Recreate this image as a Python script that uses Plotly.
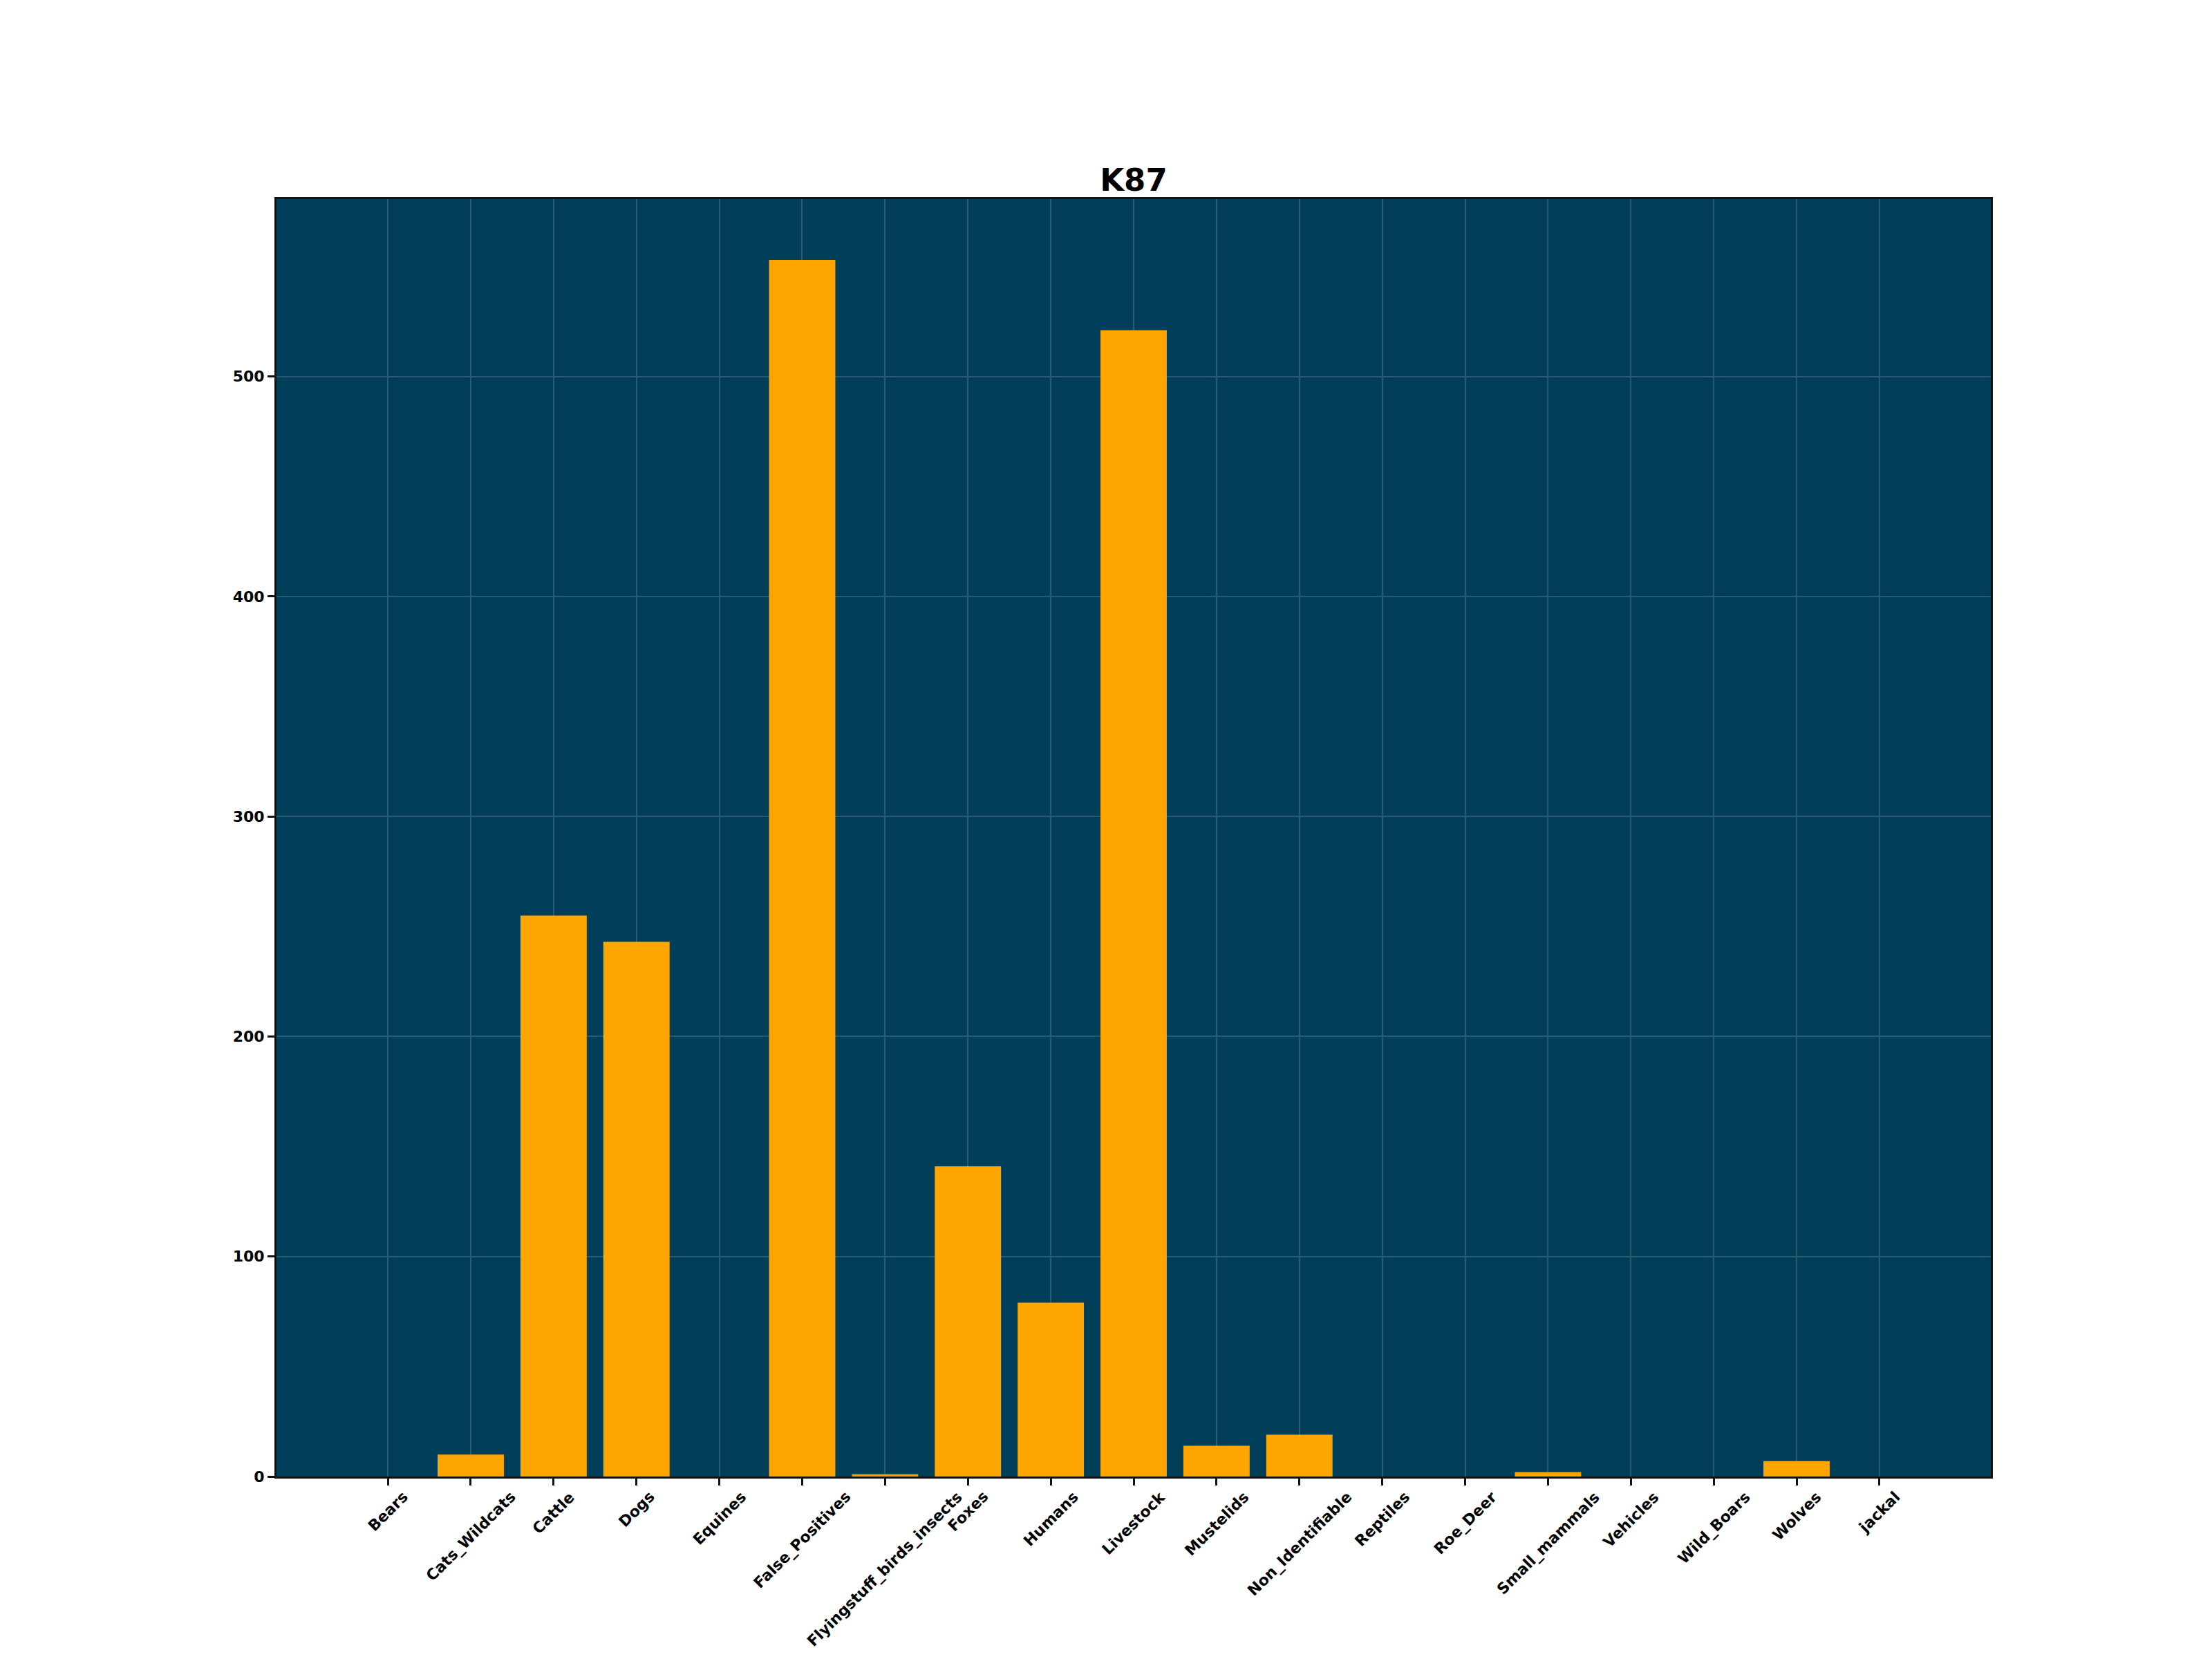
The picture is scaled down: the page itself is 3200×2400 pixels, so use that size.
import plotly.graph_objects as go

categories = ["Bears", "Cats_Wildcats", "Cattle", "Dogs", "Equines", "False_Positives",
              "Flyingstuff_birds_insects", "Foxes", "Humans", "Livestock", "Mustelids",
              "Non_Identifiable", "Reptiles", "Roe_Deer", "Small_mammals", "Vehicles",
              "Wild_Boars", "Wolves", "jackal"]
counts = [0, 10, 255, 243, 0, 553, 1, 141, 79, 521, 14, 19, 0, 0, 2, 0, 0, 7, 0]
y_ticks = [0, 100, 200, 300, 400, 500]
title_text = "K87"

FONT = "DejaVu Sans"
BG = "#013e5a"
GRID = "rgb(42,90,112)"

fig = go.Figure()
fig.add_trace(go.Bar(
    x=categories, y=counts, width=0.8,
    marker=dict(color="#FFA500", line=dict(width=0)),
))

annotations = []
for c in categories:
    annotations.append(dict(
        x=c, y=0, xref="x", yref="y", text="<b>%s</b>" % c, showarrow=False,
        textangle=-45, xanchor="center", yanchor="top", yshift=-14,
        font=dict(family=FONT, size=22, color="black"),
    ))

fig.update_layout(
    width=3200, height=2400,
    margin=dict(l=392, r=328, t=280, b=272, pad=0),
    paper_bgcolor="white", plot_bgcolor=BG,
    showlegend=False,
    bargap=0.2,
    title=dict(text="<b>%s</b>" % title_text, x=0.5, xref="paper", xanchor="center",
               y=1, yref="paper", yanchor="bottom", pad=dict(b=12),
               font=dict(family=FONT, size=45, color="black")),
    annotations=annotations,
)
fig.update_xaxes(
    type="category", range=[-1.344, 19.344],
    showticklabels=False, ticks="outside", ticklen=10, tickwidth=2.5, tickcolor="#111",
    showgrid=True, gridcolor=GRID, gridwidth=2,
    showline=True, linecolor="#111", linewidth=3, mirror=True, zeroline=False,
)
fig.update_yaxes(
    range=[0, 580.65], tickvals=y_ticks, ticktext=["<b>%d</b>" % v for v in y_ticks],
    ticks="outside", ticklen=10, tickwidth=2.5, tickcolor="#111",
    tickfont=dict(family=FONT, size=22, color="black"),
    showgrid=True, gridcolor=GRID, gridwidth=2,
    showline=True, linecolor="#111", linewidth=3, mirror=True, zeroline=False,
)

fig.write_html("out.html")
